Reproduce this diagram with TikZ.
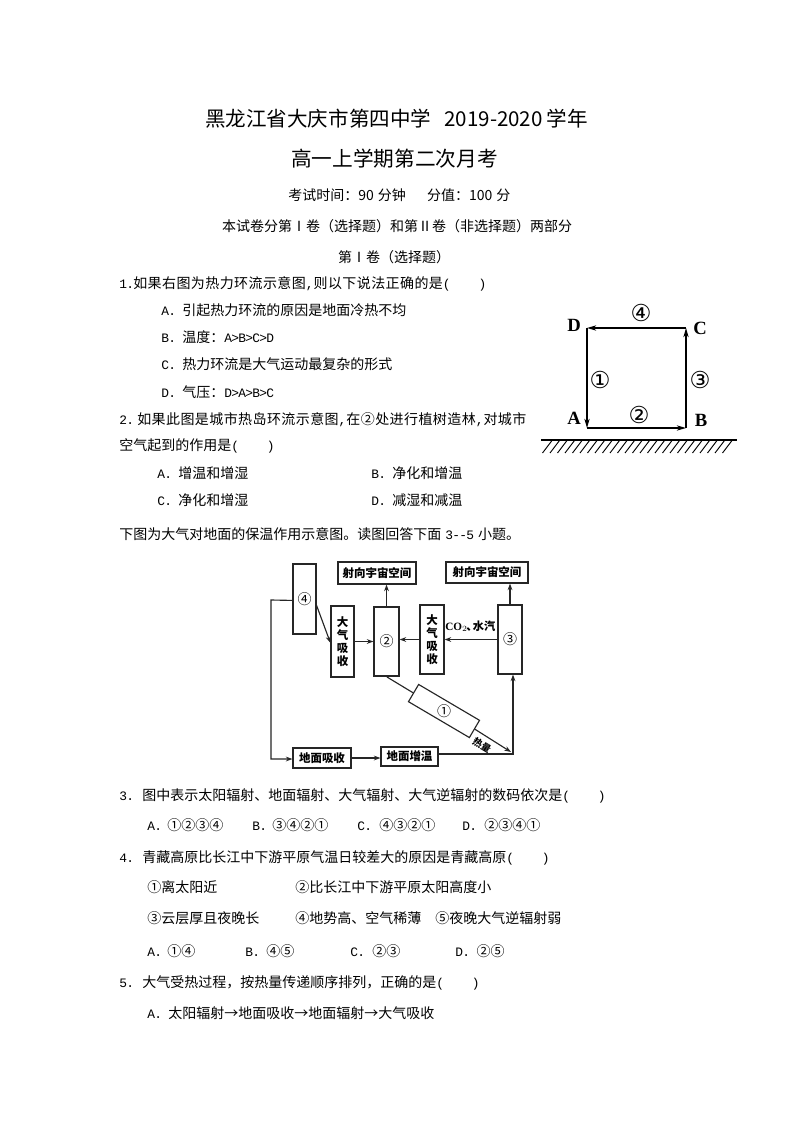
\documentclass[tikz,border=0pt]{standalone}
\usepackage{fontspec}
\setmainfont{Noto Sans CJK SC}
\newfontfamily\ltnf[Scale=0.92,LetterSpace=-5.6]{Liberation Mono}
\newfontfamily\serf{Liberation Serif}
\newfontfamily\circf{DejaVu Sans}
\newcommand\ltn[1]{{\ltnf #1}}
\newcommand\pr{\ltn{(}\hspace{21pt}\ltn{)}}
\newcommand\opt[3]{\makebox[#1pt][l]{\ltn{#2}}#3}
\newcommand\wide[1]{{\addfontfeature{LetterSpace=3}#1}}
\usetikzlibrary{arrows.meta,calc}
\tikzset{
 x=0.75pt,y=-0.75pt,
 txt/.style={anchor=west,inner sep=0pt,text height=10pt,text depth=2pt,font=\fontsize{10.5}{12}\selectfont},
 bx/.style={draw=black!85,line width=0.85pt,inner sep=0pt,fill=white,align=center,font=\fontsize{8.6}{9.6}\selectfont\bfseries},
 num/.style={inner sep=0pt,font=\fontsize{10.5}{12}\selectfont},
 con/.style={draw=black!85,line width=0.85pt},
 arr/.style={con,-{Stealth[length=5pt,width=3.6pt]}},
 sq/.style={draw=black,line width=1pt,-{Stealth[length=7pt,width=4pt]}},
 let/.style={inner sep=0pt,font=\fontsize{14}{16}\selectfont\serf\bfseries},
 cir/.style={inner sep=0pt,font=\fontsize{17.5}{20}\selectfont\circf},
}
\newcommand\tl[4]{\node[txt] (#1) at (#2,#3) {#4};}
\newcommand\bxx[6]{\node[bx,minimum width={(#4-#2)*0.75pt},minimum height={(#5-#3)*0.75pt}] (#1) at ({(#2+#4)/2},{(#3+#5)/2}) {#6};}
\begin{document}
\begin{tikzpicture}
\useasboundingbox (0,0) rectangle (794,1123);
\fill[white] (0,0) rectangle (794,1123);
% header
\tl{t1}{205}{121}{\fontsize{15.4}{18}\selectfont 黑龙江省大庆市第四中学\hspace{10pt}2019-2020\hspace{3pt}学年}
\tl{t2}{291}{161}{\fontsize{15.5}{18}\selectfont 高一上学期第二次月考}
\tl{t3}{288}{195}{考试时间：90\hspace{3pt}分钟\hspace{16pt}分值：100\hspace{3pt}分}
\node[txt,anchor=center] (t4) at (397,226) {本试卷分第Ⅰ卷（选择题）和第Ⅱ卷（非选择题）两部分};
\node[txt,anchor=center] (t5) at (394,257) {第Ⅰ卷（选择题）};
% questions
\tl{q1}{119}{283}{\makebox[10.5pt][l]{\ltn{1.}}\wide{如果右图为热力环流示意图\ltn{,}则以下说法正确的是}\pr}
\tl{q1a}{161}{310}{\opt{15.75}{A.}{引起热力环流的原因是地面冷热不均}}
\tl{q1b}{161}{337}{\opt{15.75}{B.}{温度：\ltn{A>B>C>D}}}
\tl{q1c}{161}{364}{\opt{15.75}{C.}{热力环流是大气运动最复杂的形式}}
\tl{q1d}{161}{392}{\opt{15.75}{D.}{气压：\ltn{D>A>B>C}}}
\tl{q2}{119}{419}{\makebox[13.5pt][l]{\ltn{2.}}\wide{如果此图是城市热岛环流示意图\ltn{,}在②处进行植树造林\ltn{,}对城市}}
\tl{q2l}{119}{445}{空气起到的作用是\pr}
\tl{q2a}{157}{473}{\opt{15.75}{A.}{增温和增湿}}
\tl{q2b}{371}{473}{\opt{15.75}{B.}{净化和增温}}
\tl{q2c}{157}{500}{\opt{15.75}{C.}{净化和增湿}}
\tl{q2d}{371}{500}{\opt{15.75}{D.}{减湿和减温}}
\tl{intro}{119}{534}{下图为大气对地面的保温作用示意图。读图回答下面\hspace{3pt}\ltn{3--5}\hspace{3pt}小题。}
\tl{q3}{119}{795}{\opt{17.25}{3.}{图中表示太阳辐射、地面辐射、大气辐射、大气逆辐射的数码依次是}\pr}
\tl{q3a}{147}{825}{\opt{15}{A.}{①②③④}}
\tl{q3b}{252}{825}{\opt{15}{B.}{③④②①}}
\tl{q3c}{357}{825}{\opt{16.5}{C.}{④③②①}}
\tl{q3d}{462}{825}{\opt{16.5}{D.}{②③④①}}
\tl{q4}{119}{857}{\opt{17.25}{4.}{青藏高原比长江中下游平原气温日较差大的原因是青藏高原}\pr}
\tl{q4i}{147}{887}{①离太阳近}
\tl{q4ii}{295}{887}{②比长江中下游平原太阳高度小}
\tl{q4iii}{147}{918}{③云层厚且夜晚长}
\tl{q4iv}{295}{918}{④地势高、空气稀薄}
\tl{q4v}{435}{918}{⑤夜晚大气逆辐射弱}
\tl{q4a}{147}{951}{\opt{15}{A.}{①④}}
\tl{q4b}{245}{951}{\opt{15.75}{B.}{④⑤}}
\tl{q4c}{350}{951}{\opt{16.5}{C.}{②③}}
\tl{q4d}{455}{951}{\opt{16}{D.}{②⑤}}
\tl{q5}{119}{982}{\opt{17.25}{5.}{大气受热过程，按热量传递顺序排列，正确的是}\pr}
\tl{q5a}{147}{1013}{\opt{15.75}{A.}{太阳辐射→地面吸收→地面辐射→大气吸收}}
% circulation diagram
\coordinate (D) at (587,328);
\coordinate (C) at (686,328);
\coordinate (A) at (587,428);
\coordinate (B) at (686,428);
\draw[sq] (D) -- (A);
\draw[sq] (A) -- (B);
\draw[sq] (B) -- (C);
\draw[sq] (C) -- (D);
\node[let] (lD) at (574,325) {D};
\node[let] (lC) at (700,328) {C};
\node[let] (lA) at (574,418) {A};
\node[let] (lB) at (701,420) {B};
\node[cir] (n4) at (641,313) {④};
\node[cir] (n1) at (600,380) {①};
\node[cir] (n3) at (700,380) {③};
\node[cir] (n2) at (639,415) {②};
\coordinate (g1) at (541,440);
\coordinate (g2) at (737,440);
\draw[line width=1pt] (g1) -- (g2);
\foreach \i in {0,...,24}{
  \draw[line width=0.7pt] ({552+7.5*\i},440.5) -- ({542.5+7.5*\i},453);
}
% greenhouse flow diagram
\bxx{b4}{293}{564}{316}{634}{\fontsize{10.5}{12}\selectfont\mdseries ④}
\bxx{o1}{338}{562}{416}{584}{射向宇宙空间}
\bxx{o2}{446}{562}{528}{583}{射向宇宙空间}
\bxx{a1}{331}{606}{354}{677}{大\\气\\吸\\收}
\bxx{b2}{374}{607}{399}{676}{\fontsize{10.5}{12}\selectfont\mdseries ②}
\bxx{a2}{420}{605}{444}{674}{大\\气\\吸\\收}
\bxx{b3}{498}{605}{522}{674}{\fontsize{10.5}{12}\selectfont\mdseries ③}
\bxx{gA}{293}{748}{351}{768}{地面吸收}
\bxx{gW}{381}{747}{438}{766}{地面增温}
\node[bx,rotate=-30.5,minimum width=53pt,minimum height=15pt] (b1) at (444,711) {};
\node[num] (b1n) at (b1.center) {①};
\coordinate (p4) at ($(b4.north west)!0.52!(b4.south west)$);
\coordinate (e1) at (271,600);
\coordinate (e2) at (271,759);
\draw[arr] (p4) -- (e1) -- (e2) -- (e2 -| gA.west);
\coordinate (p5) at ($(b4.north east)!0.59!(b4.south east)$);
\coordinate (p6) at ($(a1.north west)!0.52!(a1.south west)$);
\draw[arr] (p5) -- (p6);
\draw[arr] (a1.east) -- (a1.east -| b2.west);
\draw[arr] (a2.west) -- (a2.west -| b2.east);
\draw[arr] (b3.west) -- (b3.west -| a2.east);
\draw[arr] (b2.north) -- (b2.north |- o1.south);
\draw[arr] (b3.north) -- (b3.north |- o2.south);
\draw[arr] (gA.east) -- (gA.east -| gW.west);
\coordinate (r1) at (513,754);
\draw[arr] (gW.east |- r1) -- (r1) -- (r1 |- b3.south);
\coordinate (s1) at (387,677);
\draw[con] (s1) -- (b1.west);
\coordinate (tipH) at (511,752);
\draw[arr] (b1.east) -- (tipH);
\node[inner sep=0pt,rotate=-31,font=\fontsize{7.2}{9}\selectfont\bfseries] (heat) at (482,745) {热量};
\node[inner sep=0pt,anchor=west,font=\fontsize{8.4}{10}\selectfont\bfseries] (co2) at (445,626) {\serf CO$_2$\rmfamily\hspace{-1pt}、\hspace{-3.5pt}水汽};
\end{tikzpicture}
\end{document}
